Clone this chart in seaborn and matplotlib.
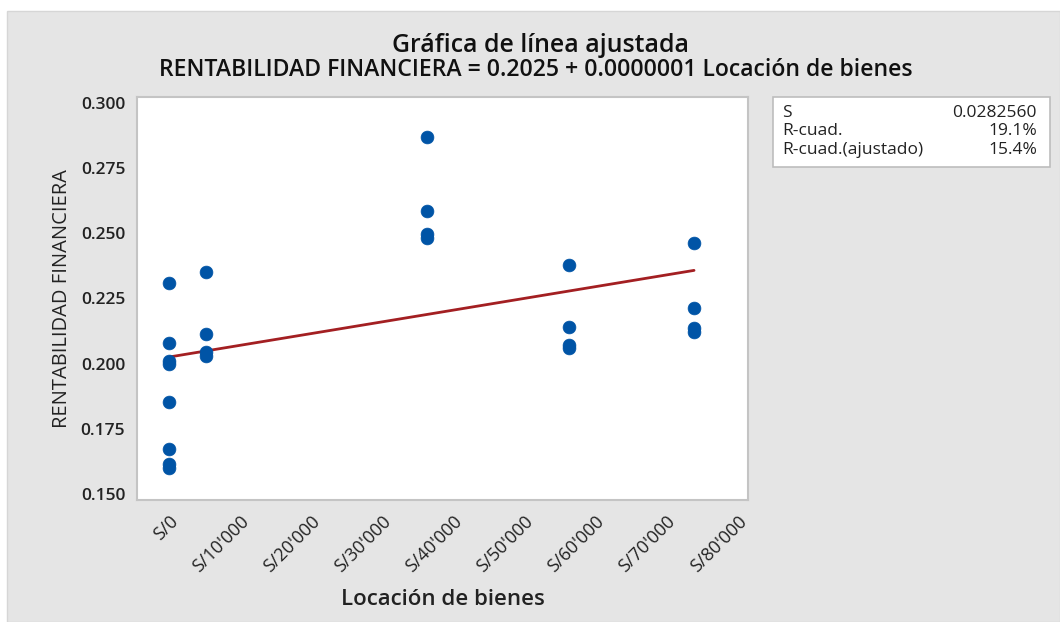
import numpy as np
import pandas as pd
import matplotlib
matplotlib.use('Agg')
import matplotlib.pyplot as plt
import seaborn as sns
from matplotlib.patches import Rectangle

# Data
locacion = [0, 0, 0, 0, 0, 0, 0, 0,
            5200, 5200, 5200, 5200,
            36250, 36250, 36250, 36250,
            56300, 56300, 56300, 56300,
            73900, 73900, 73900, 73900]
rentabilidad = [0.2310, 0.2078, 0.2010, 0.2000, 0.1855, 0.1672, 0.1615, 0.1602,
                0.2353, 0.2114, 0.2046, 0.2030,
                0.2867, 0.2586, 0.2497, 0.2483,
                0.2378, 0.2140, 0.2072, 0.2059,
                0.2462, 0.2215, 0.2138, 0.2123]

x_ticks = [0, 10000, 20000, 30000, 40000, 50000, 60000, 70000, 80000]
x_tick_labels = ["S/0", "S/10'000", "S/20'000", "S/30'000", "S/40'000",
                 "S/50'000", "S/60'000", "S/70'000", "S/80'000"]
y_ticks = [0.150, 0.175, 0.200, 0.225, 0.250, 0.275, 0.300]

stats_names = ["S", "R-cuad.", "R-cuad.(ajustado)"]
stats_values = ["0.0282560", "19.1%", "15.4%"]

df = pd.DataFrame({'Locación de bienes': locacion,
                   'RENTABILIDAD FINANCIERA': rentabilidad})

sns.set_style('white')
plt.rcParams['font.family'] = ['Open Sans', 'DejaVu Sans']

W, H = 1060, 622
fig = plt.figure(figsize=(W / 100, H / 100), dpi=100, facecolor='white')

# gray panel behind everything
fig.patches.append(Rectangle((7 / W, 0), 1 - 7 / W, 1 - 11 / H, transform=fig.transFigure,
                             facecolor='#e5e5e5', edgecolor='#d6d6d6', linewidth=1, zorder=-10))

ax = fig.add_axes([137 / W, 1 - 500 / H, (748 - 137) / W, (500 - 97) / H])
ax.set_facecolor('white')

sns.scatterplot(data=df, x='Locación de bienes', y='RENTABILIDAD FINANCIERA', ax=ax,
                color='#0054a6', s=85, marker='o', edgecolor='#0054a6', linewidth=0.5, zorder=3)
sns.regplot(data=df, x='Locación de bienes', y='RENTABILIDAD FINANCIERA', ax=ax,
            scatter=False, ci=None, truncate=True,
            line_kws={'color': '#a31f22', 'linewidth': 2, 'zorder': 2})

ax.set_xlim(-4550, 81500)
ax.set_ylim(0.14782, 0.30218)
ax.set_xticks(x_ticks)
ax.set_xticklabels(x_tick_labels, rotation=45, ha='right', va='top', rotation_mode='anchor')
ax.set_yticks(y_ticks)
ax.set_yticklabels([f'{v:.3f}' for v in y_ticks])

for sp in ax.spines.values():
    sp.set_color('#c4c4c4')
    sp.set_linewidth(1.5)
ax.tick_params(axis='both', direction='out', length=5, width=1, color='#b0b0b0',
               labelcolor='#222222')
ax.tick_params(axis='x', pad=4, labelsize=13)
ax.tick_params(axis='y', labelsize=12.5)
for lab in ax.get_yticklabels():
    lab.set_fontweight('semibold')

ax.set_xlabel('Locación de bienes', fontsize=16, fontweight='semibold', color='#222222')
ax.set_ylabel('RENTABILIDAD FINANCIERA', fontsize=14.5, color='#222222')
ax.xaxis.set_label_coords(0.5, -0.222)
ax.yaxis.set_label_coords(-0.106, 0.5)

fig.text(540 / W, 1 - 45 / H, 'Gráfica de línea ajustada', ha='center', va='center',
         fontsize=17.9, fontweight='semibold', color='#111111')
fig.text(536 / W, 1 - 70 / H, 'RENTABILIDAD FINANCIERA = 0.2025 + 0.0000001 Locación de bienes',
         ha='center', va='center', fontsize=16.6, fontweight='semibold', color='#111111')

# statistics box
fig.patches.append(Rectangle((773 / W, 1 - 167 / H), (1050 - 773) / W, (167 - 97) / H,
                             transform=fig.transFigure, facecolor='white',
                             edgecolor='#bdbdbd', linewidth=1.2, zorder=1))
for i, (name, val) in enumerate(zip(stats_names, stats_values)):
    yy = 1 - (113 + i * 18.5) / H
    fig.text(782 / W, yy, name, ha='left', va='center', fontsize=12.5, color='#222222')
    fig.text(1037 / W, yy, val, ha='right', va='center', fontsize=12.5, color='#222222')

fig.savefig('out.png', dpi=100, facecolor=fig.get_facecolor())
